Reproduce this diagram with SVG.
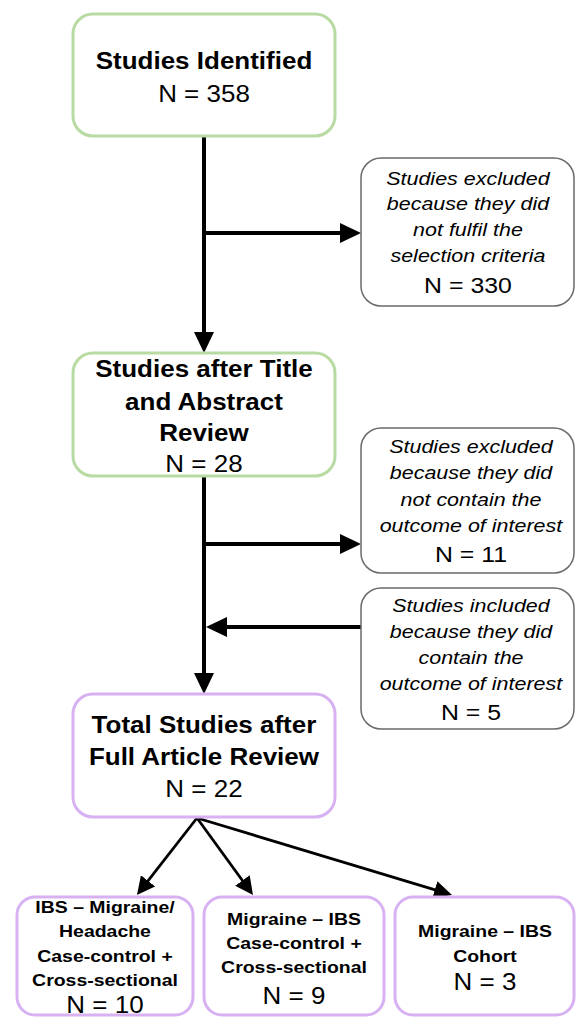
<svg xmlns="http://www.w3.org/2000/svg" width="576" height="1018" viewBox="0 0 576 1018">
<style>
.t { font-family: "Liberation Sans", Arial, sans-serif; text-anchor: middle; fill: #000; transform-box: fill-box; transform-origin: center; transform: scaleX(1.13); }
.b { font-weight: bold; font-size: 23px; }
.i { font-style: italic; font-size: 19px; }
.s { font-weight: bold; font-size: 17.2px; }
.n { font-size: 23px; }
.m { font-size: 22px; }
.g { fill: #fff; stroke: #b8dba3; stroke-width: 3; }
.p { fill: #fff; stroke: #d7b1f2; stroke-width: 3; }
.r { fill: #fff; stroke: #6a6a6a; stroke-width: 1.5; }
.c { fill: none; stroke: #000; stroke-width: 4; marker-end: url(#a); }
.f { fill: none; stroke: #000; stroke-width: 2.8; marker-end: url(#h); }
</style>
<defs>
<marker id="a" markerWidth="21" markerHeight="20" refX="10" refY="10" orient="auto" markerUnits="userSpaceOnUse"><path d="M0,0 L21,10 L0,20 z" fill="#000"/></marker>
<marker id="h" markerWidth="18" markerHeight="18" refX="9" refY="9" orient="auto" markerUnits="userSpaceOnUse"><path d="M0,0 L18,9 L0,18 z" fill="#000"/></marker>
</defs>
<rect width="576" height="1018" fill="#fff"/>
<g id="connectors">
<line class="c" x1="204" y1="136" x2="204" y2="342"/>
<line class="c" x1="204" y1="233" x2="350" y2="233"/>
<line class="c" x1="204" y1="476" x2="204" y2="683"/>
<line class="c" x1="204" y1="544" x2="350" y2="544"/>
<line class="c" x1="361" y1="627" x2="217" y2="627"/>
<line class="f" x1="197" y1="818" x2="142.5" y2="887.9"/>
<line class="f" x1="197" y1="818" x2="247.7" y2="887.7"/>
<line class="f" x1="197" y1="818" x2="443.4" y2="892.4"/>
</g>
<g id="identified">
<rect class="g" x="73" y="14" width="262" height="122" rx="20"/>
<text class="t b" x="204" y="69">Studies Identified</text>
<text class="t n" x="204" y="102">N = 358</text>
</g>
<g id="excluded1">
<rect class="r" x="361" y="158" width="213" height="148" rx="20"/>
<text class="t i" x="468" y="185">Studies excluded</text>
<text class="t i" x="468" y="210">because they did</text>
<text class="t i" x="468" y="236">not fulfil the</text>
<text class="t i" x="468" y="262">selection criteria</text>
<text class="t m" x="468" y="293">N = 330</text>
</g>
<g id="title-abstract">
<rect class="g" x="73" y="353" width="262" height="123" rx="20"/>
<text class="t b" x="204" y="377">Studies after Title</text>
<text class="t b" x="204" y="410">and Abstract</text>
<text class="t b" x="204" y="441">Review</text>
<text class="t n" x="204" y="472">N = 28</text>
</g>
<g id="excluded2">
<rect class="r" x="361" y="428" width="213" height="145" rx="20"/>
<text class="t i" x="471" y="453">Studies excluded</text>
<text class="t i" x="471" y="479">because they did</text>
<text class="t i" x="471" y="506">not contain the</text>
<text class="t i" x="471" y="532">outcome of interest</text>
<text class="t m" x="471" y="562">N = 11</text>
</g>
<g id="included">
<rect class="r" x="361" y="588" width="213" height="141" rx="20"/>
<text class="t i" x="471" y="612">Studies included</text>
<text class="t i" x="471" y="638">because they did</text>
<text class="t i" x="471" y="664">contain the</text>
<text class="t i" x="471" y="690">outcome of interest</text>
<text class="t m" x="471" y="720">N = 5</text>
</g>
<g id="full-article">
<rect class="p" x="73" y="694" width="262" height="123" rx="20"/>
<text class="t b" x="204" y="733">Total Studies after</text>
<text class="t b" x="204" y="765">Full Article Review</text>
<text class="t n" x="204" y="797">N = 22</text>
</g>
<g id="ibs-migraine">
<rect class="p" x="17" y="897" width="176" height="118" rx="18"/>
<text class="t s" x="105" y="913">IBS – Migraine/</text>
<text class="t s" x="105" y="937">Headache</text>
<text class="t s" x="105" y="962">Case-control +</text>
<text class="t s" x="105" y="986">Cross-sectional</text>
<text class="t n" x="105" y="1013">N = 10</text>
</g>
<g id="migraine-ibs-cc">
<rect class="p" x="204" y="897" width="180" height="118" rx="18"/>
<text class="t s" x="294" y="925">Migraine – IBS</text>
<text class="t s" x="294" y="949">Case-control +</text>
<text class="t s" x="294" y="973">Cross-sectional</text>
<text class="t n" x="294" y="1004">N = 9</text>
</g>
<g id="migraine-ibs-cohort">
<rect class="p" x="395" y="897" width="179" height="118" rx="18"/>
<text class="t s" x="485" y="937">Migraine – IBS</text>
<text class="t s" x="485" y="962">Cohort</text>
<text class="t n" x="485" y="990">N = 3</text>
</g>
</svg>
